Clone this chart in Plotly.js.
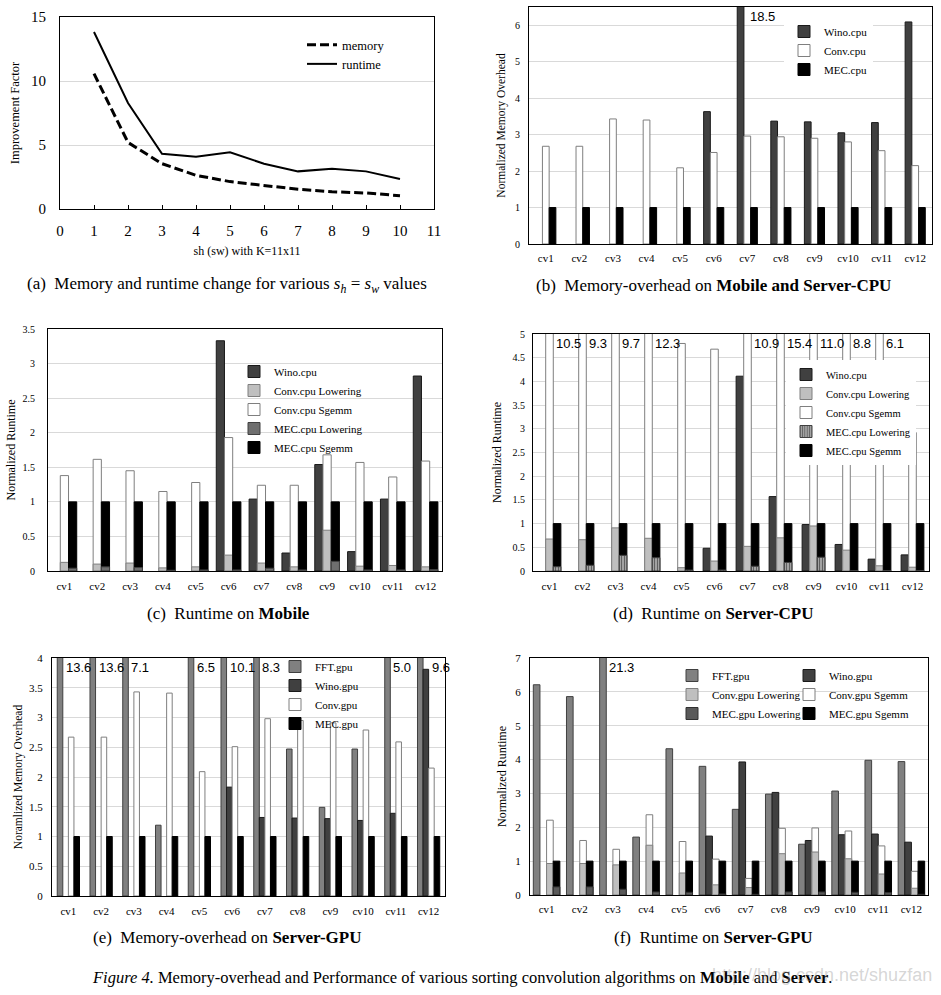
<!DOCTYPE html>
<html><head><meta charset="utf-8">
<script src="https://cdn.plot.ly/plotly-3.0.1.min.js"></script>
<style>html,body{margin:0;padding:0;background:#fff}</style>
</head><body><div id="chart" style="width:941px;height:995px"></div>
<script>
// ---------------- data ----------------
const categories = ['cv1','cv2','cv3','cv4','cv5','cv6','cv7','cv8','cv9','cv10','cv11','cv12'];

// (a) improvement factor vs stride
const aStride  = [1,2,3,4,5,6,7,8,9,10];
const aMemory  = [10.57,5.2,3.54,2.63,2.14,1.85,1.54,1.35,1.25,1.04];
const aRuntime = [13.83,8.28,4.32,4.09,4.43,3.54,2.94,3.15,2.94,2.34];

// (b) memory overhead, Mobile and Server-CPU
const bWino = [null,null,null,null,null,3.63,18.5,3.37,3.35,3.05,3.33,6.09];
const bConv = [2.68,2.68,3.43,3.40,2.09,2.51,2.96,2.94,2.90,2.80,2.56,2.15];
const bMEC  = [1,1,1,1,1,1,1,1,1,1,1,1];

// (c) runtime on Mobile
const cWino      = [null,null,null,null,null,3.33,1.04,0.26,1.54,0.28,1.04,2.82];
const cConvLow   = [0.125,0.10,0.115,0.045,0.06,0.23,0.115,0.06,0.59,0.07,0.08,0.06];
const cConvSgemm = [1.38,1.615,1.45,1.15,1.28,1.93,1.24,1.24,1.68,1.57,1.36,1.59];
const cMecLow    = [0.04,0.06,0.05,0.01,0.015,0.015,0.04,0.015,0.14,0.015,0.015,0.02];
const cMecSgemm  = [1,1,1,1,1,1,1,1,1,1,1,1];

// (d) runtime on Server-CPU
const dWino      = [null,null,null,null,null,0.48,4.11,1.57,0.98,0.56,0.25,0.34];
const dConvLow   = [0.675,0.66,0.91,0.69,0.07,0.21,0.52,0.70,0.95,0.44,0.11,0.08];
const dConvSgemm = [10.5,9.3,9.7,12.3,4.80,4.68,10.9,15.4,11.0,8.8,6.1,2.92];
const dMecLow    = [0.09,0.12,0.33,0.28,0.02,0.02,0.10,0.18,0.29,0.01,0.01,0.01];
const dMecSgemm  = [1,1,1,1,1,1,1,1,1,1,1,1];

// (e) memory overhead on Server-GPU
const eFFT  = [13.6,13.6,7.1,1.19,6.5,10.1,8.3,2.47,1.49,2.47,5.0,9.6];
const eWino = [null,null,null,null,null,1.83,1.32,1.31,1.30,1.27,1.39,3.81];
const eConv = [2.67,2.67,3.43,3.41,2.09,2.51,2.98,2.95,2.91,2.79,2.59,2.15];
const eMEC  = [1,1,1,1,1,1,1,1,1,1,1,1];

// (f) runtime on Server-GPU
const fFFT       = [6.21,5.86,21.3,1.71,4.32,3.80,2.53,2.98,1.50,3.07,3.98,3.94];
const fWino      = [null,null,null,null,null,1.74,3.93,3.03,1.61,1.78,1.80,1.56];
const fConvLow   = [0.93,0.93,0.89,1.47,0.65,0.30,0.22,1.22,1.27,1.07,0.62,0.20];
const fConvSgemm = [2.21,1.61,1.35,2.37,1.58,1.06,0.49,1.97,1.98,1.89,1.45,0.70];
const fMecLow    = [0.24,0.24,0.17,0.09,0.08,0.03,0.02,0.09,0.09,0.08,0.07,0.02];
const fMecSgemm  = [1,1,1,1,1,1,1,1,1,1,1,1];

// ---------------- styles / helpers ----------------
const W = 941, H = 995;
const PX = v => v / W;
const PY = v => 1 - v / H;
const SERIF = '"Liberation Serif", "Times New Roman", serif';
const SANS = '"Liberation Sans", Arial, sans-serif';
const GRID = '#d9d9d9';

const ST = {
  wino:    {color:'#404040', line:{color:'#1a1a1a', width:1}},
  conv:    {color:'#ffffff', line:{color:'#7f7f7f', width:1}},
  mec:     {color:'#000000', line:{color:'#000000', width:1}},
  fft:     {color:'#808080', line:{color:'#404040', width:1}},
  convLow: {color:'#bfbfbf', line:{color:'#7f7f7f', width:1}},
  mecLowC: {color:'#6f6f6f', line:{color:'#404040', width:1}},
  mecLowD: {color:'#b0b0b0', pattern:{shape:'|', fgcolor:'#606060', bgcolor:'#b0b0b0', size:3, solidity:0.45}, line:{color:'#404040', width:1}},
  mecLowF: {color:'#595959', line:{color:'#303030', width:1}}
};

const traces = [];
const annotations = [];
const layout = {
  width: W, height: H,
  margin: {l:0, r:0, t:0, b:0},
  paper_bgcolor: '#ffffff', plot_bgcolor: '#ffffff',
  barmode: 'overlay',
  font: {family: SERIF, color: '#000000', size: 11},
  showlegend: true,
  annotations: annotations
};

function yAxisBase(dom, range, dtick, tickSize, standoff, title, titleSize, titleStandoff) {
  return {
    domain: [PY(dom.b), PY(dom.t)], range: range, dtick: dtick,
    showgrid: true, gridcolor: GRID, gridwidth: 1, zeroline: false,
    showline: true, mirror: true, linecolor: '#000000', linewidth: 1,
    ticks: '', tickfont: {family: SERIF, size: tickSize, color:'#000000'},
    ticklabelstandoff: standoff, fixedrange: true,
    title: {text: title, font: {family: SERIF, size: titleSize, color:'#000000'}, standoff: titleStandoff}
  };
}

// ---------------- panel (a) ----------------
const domA = {l:60, r:434, t:17, b:209};
layout.xaxis = {
  domain: [PX(domA.l), PX(domA.r)], range: [0, 11], dtick: 1, anchor: 'y',
  showgrid: false, zeroline: false, showline: true, mirror: true,
  linecolor: '#000000', linewidth: 1, ticks: 'inside', ticklen: 4, tickcolor: '#000000',
  tickfont: {family: SERIF, size: 15}, ticklabelstandoff: 8, fixedrange: true,
  title: {text: 'sh (sw) with K=11x11', font: {family: SERIF, size: 12}, standoff: 8}
};
layout.yaxis = yAxisBase(domA, [0, 15], 5, 15, 10, 'Improvement Factor', 12.5, 8);
layout.yaxis.anchor = 'x';
traces.push({
  type: 'scatter', mode: 'lines', x: aStride, y: aMemory, name: 'memory',
  xaxis: 'x', yaxis: 'y', legend: 'legend',
  line: {color: '#000000', width: 3, dash: '9px,4px'}
});
traces.push({
  type: 'scatter', mode: 'lines', x: aStride, y: aRuntime, name: 'runtime',
  xaxis: 'x', yaxis: 'y', legend: 'legend',
  line: {color: '#000000', width: 2}
});
layout.legend = {
  x: PX(302), y: PY(30), xanchor: 'left', yanchor: 'top',
  bgcolor: 'rgba(0,0,0,0)', borderwidth: 0, tracegroupgap: 0,
  font: {family: SERIF, size: 12.5}, itemwidth: 30
};

// ---------------- bar panels ----------------
function barPanel(cfg) {
  const n = cfg.slots.length;
  const w = cfg.barWidth;
  const xa = 'x' + cfg.id, ya = 'y' + cfg.id;
  layout['xaxis' + cfg.id] = {
    domain: [PX(cfg.dom.l), PX(cfg.dom.r)], anchor: ya, type: 'category',
    categoryorder: 'array', categoryarray: categories, range: [-0.5, categories.length - 0.5],
    showgrid: false, zeroline: false, showline: true, mirror: true,
    linecolor: '#000000', linewidth: 1, ticks: '',
    tickfont: {family: SERIF, size: 11}, ticklabelstandoff: cfg.xStandoff, fixedrange: true
  };
  const yax = yAxisBase(cfg.dom, cfg.yrange, cfg.dtick, cfg.yTickSize, cfg.yStandoff, cfg.ytitle, cfg.titleSize, cfg.titleStandoff);
  yax.anchor = xa;
  layout['yaxis' + cfg.id] = yax;

  cfg.slots.forEach((slot, k) => {
    const offset = -n * w / 2 + k * w;
    slot.forEach(layer => {
      traces.push({
        type: 'bar', x: categories, y: layer.y, name: layer.name,
        xaxis: xa, yaxis: ya, offset: offset, width: w,
        marker: layer.style, legend: layer.legend || cfg.legend, legendrank: layer.rank,
        hoverinfo: 'skip'
      });
    });
  });

  // labels for bars running past the top of the axis
  const ymax = cfg.yrange[1];
  cfg.slots.forEach((slot, k) => {
    const top = slot[0].y;
    top.forEach((v, i) => {
      if (v === null || v <= ymax) return;
      let edge = i + (-n * w / 2 + (k + 1) * w);
      for (let j = k + 1; j < n; j++) {
        const vj = cfg.slots[j][0].y[i];
        if (vj !== null && vj > ymax * 0.9) edge = i + (-n * w / 2 + (j + 1) * w);
      }
      annotations.push({
        xref: xa, yref: ya + ' domain', x: edge, y: 0.962,
        xanchor: 'left', yanchor: 'middle', xshift: cfg.labelShift,
        text: v.toFixed(1), showarrow: false,
        font: {family: SANS, size: 13, color: '#000000'}
      });
    });
  });
}

function legendBox(x, y, size, bg) {
  return {
    x: PX(x), y: PY(y), xanchor: 'left', yanchor: 'top',
    bgcolor: bg || 'rgba(0,0,0,0)', borderwidth: 0, tracegroupgap: 0,
    font: {family: SERIF, size: size}
  };
}

// (b)
barPanel({
  id: 2, dom: {l:529, r:932, t:7, b:244}, yrange: [0, 6.5], dtick: 1, yTickSize: 10,
  yStandoff: 6, xStandoff: 4, ytitle: 'Normalized Memory Overhead', titleSize: 11.5, titleStandoff: 6,
  barWidth: 0.2, legend: 'legend2', labelShift: 4,
  slots: [
    [{name:'Wino.cpu', y:bWino, style:ST.wino, rank:1}],
    [{name:'Conv.cpu', y:bConv, style:ST.conv, rank:2}],
    [{name:'MEC.cpu',  y:bMEC,  style:ST.mec,  rank:3}]
  ]
});
layout.legend2 = legendBox(784, 17, 11, '#ffffff');

// (c)
barPanel({
  id: 3, dom: {l:48, r:442, t:329, b:571}, yrange: [0, 3.5], dtick: 0.5, yTickSize: 10,
  yStandoff: 10, xStandoff: 5, ytitle: 'Normalized Runtime', titleSize: 12, titleStandoff: 4,
  barWidth: 0.25, legend: 'legend3', labelShift: 1,
  slots: [
    [{name:'Wino.cpu', y:cWino, style:ST.wino, rank:1}],
    [{name:'Conv.cpu Sgemm', y:cConvSgemm, style:ST.conv, rank:3},
     {name:'Conv.cpu Lowering', y:cConvLow, style:ST.convLow, rank:2}],
    [{name:'MEC.cpu Sgemm', y:cMecSgemm, style:ST.mec, rank:5},
     {name:'MEC.cpu Lowering', y:cMecLow, style:ST.mecLowC, rank:4}]
  ]
});
layout.legend3 = legendBox(234, 357, 11);

// (d)
barPanel({
  id: 4, dom: {l:533, r:929, t:334, b:571}, yrange: [0, 5], dtick: 0.5, yTickSize: 10,
  yStandoff: 5, xStandoff: 5, ytitle: 'Normalized Runtime', titleSize: 12, titleStandoff: 8,
  barWidth: 0.23, legend: 'legend4', labelShift: 1,
  slots: [
    [{name:'Wino.cpu', y:dWino, style:ST.wino, rank:1}],
    [{name:'Conv.cpu Sgemm', y:dConvSgemm, style:ST.conv, rank:3},
     {name:'Conv.cpu Lowering', y:dConvLow, style:ST.convLow, rank:2}],
    [{name:'MEC.cpu Sgemm', y:dMecSgemm, style:ST.mec, rank:5},
     {name:'MEC.cpu Lowering', y:dMecLow, style:ST.mecLowD, rank:4}]
  ]
});
layout.legend4 = legendBox(786, 360, 10.5, '#ffffff');

// (e)
barPanel({
  id: 5, dom: {l:52, r:445, t:658, b:896}, yrange: [0, 4], dtick: 0.5, yTickSize: 11,
  yStandoff: 6, xStandoff: 5, ytitle: 'Noramlized Memory Overhead', titleSize: 11.5, titleStandoff: 4,
  barWidth: 0.17, legend: 'legend5', labelShift: 1,
  slots: [
    [{name:'FFT.gpu',  y:eFFT,  style:ST.fft,  rank:1}],
    [{name:'Wino.gpu', y:eWino, style:ST.wino, rank:2}],
    [{name:'Conv.gpu', y:eConv, style:ST.conv, rank:3}],
    [{name:'MEC.gpu',  y:eMEC,  style:ST.mec,  rank:4}]
  ]
});
layout.legend5 = legendBox(275, 652, 11);

// (f)
barPanel({
  id: 6, dom: {l:530, r:928, t:658, b:895}, yrange: [0, 7], dtick: 1, yTickSize: 11,
  yStandoff: 6, xStandoff: 4, ytitle: 'Normalized Runtime', titleSize: 12, titleStandoff: 6,
  barWidth: 0.2, legend: 'legend6', labelShift: 1,
  slots: [
    [{name:'FFT.gpu',  y:fFFT,  style:ST.fft,  rank:1}],
    [{name:'Wino.gpu', y:fWino, style:ST.wino, rank:1, legend:'legend7'}],
    [{name:'Conv.gpu Sgemm', y:fConvSgemm, style:ST.conv, rank:2, legend:'legend7'},
     {name:'Conv.gpu Lowering', y:fConvLow, style:ST.convLow, rank:2}],
    [{name:'MEC.gpu Sgemm', y:fMecSgemm, style:ST.mec, rank:3, legend:'legend7'},
     {name:'MEC.gpu Lowering', y:fMecLow, style:ST.mecLowF, rank:3}]
  ]
});
layout.legend6 = legendBox(672, 661, 11);
layout.legend7 = legendBox(789, 661, 11);

// ---------------- captions ----------------
function caption(text, cx, cy, size, font) {
  annotations.push({
    xref: 'paper', yref: 'paper', x: PX(cx), y: PY(cy), xanchor: 'center', yanchor: 'middle',
    text: text, showarrow: false, font: {family: font || SERIF, size: size, color: '#000000'}
  });
}
caption('(a)  Memory and runtime change for various <i>s<sub>h</sub></i> = <i>s<sub>w</sub></i> values', 227, 285, 17);
caption('(b)  Memory-overhead on <b>Mobile and Server-CPU</b>', 713, 285, 17);
caption('(c)  Runtime on <b>Mobile</b>', 228, 613, 17);
caption('(d)  Runtime on <b>Server-CPU</b>', 713, 613, 17);
caption('(e)  Memory-overhead on <b>Server-GPU</b>', 227, 937, 17);
caption('(f)  Runtime on <b>Server-GPU</b>', 713, 937, 17);
caption('<i>Figure 4.</i> Memory-overhead and Performance of various sorting convolution algorithms on <b>Mobile</b> and <b>Server</b>.', 462, 977, 16.5);
annotations.push({
  xref: 'paper', yref: 'paper', x: PX(934), y: PY(975), xanchor: 'right', yanchor: 'middle',
  text: 'http://blog.csdn.net/shuzfan', showarrow: false,
  font: {family: SANS, size: 18, color: 'rgba(150,150,150,0.4)'}
});

Plotly.newPlot('chart', traces, layout, {staticPlot: true, displayModeBar: false});
</script>
</body></html>
